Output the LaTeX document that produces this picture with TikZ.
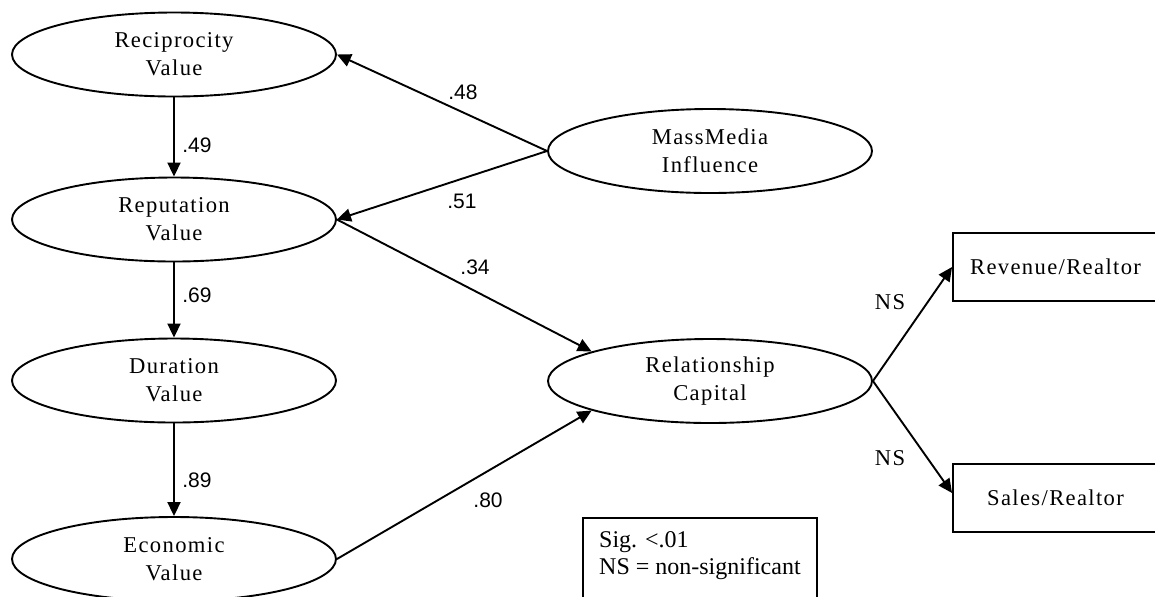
\documentclass[tikz,border=0pt]{standalone}
\usepackage{fontspec}
\setmainfont{Liberation Serif}
\newfontfamily\nodefont[LetterSpace=6]{Liberation Serif}
\newfontfamily\numfont{Liberation Sans}
\usetikzlibrary{shapes.geometric,arrows.meta}

\begin{document}
\begin{tikzpicture}[x=0.5pt,y=-0.5pt,
  latent/.style={ellipse,draw,line width=0.95pt,minimum width=162pt,minimum height=42pt,
    inner sep=0pt,align=center,font=\nodefont\fontsize{11.3}{14}\selectfont},
  observed/.style={rectangle,draw,line width=0.95pt,minimum width=102.5pt,minimum height=34pt,
    inner sep=0pt,font=\nodefont\fontsize{11.3}{14}\selectfont},
  link/.style={draw,line width=0.95pt,-{Triangle[length=7pt,width=6.5pt]}},
  coef/.style={font=\numfont\fontsize{10.5}{12}\selectfont,inner sep=0pt},
  nslabel/.style={font=\nodefont\fontsize{11.3}{13}\selectfont,inner sep=0pt}]

\useasboundingbox (0,0) rectangle (1155,596);

% latent constructs
\node[latent] (rec) at (174,54.5)  {Reciprocity\\Value};
\node[latent] (rep) at (174,219.5) {Reputation\\Value};
\node[latent] (dur) at (174,380.5) {Duration\\Value};
\node[latent] (eco) at (174,559)   {Economic\\Value};
\node[latent] (mm)  at (710,151)   {MassMedia\\Influence};
\node[latent] (rc)  at (710,381)   {Relationship\\Capital};

% outcome measures
\node[observed] (rev)   at (1055.5,267) {Revenue/Realtor};
\node[observed] (sales) at (1055.5,498) {Sales/Realtor};

% legend
\node[draw,line width=0.95pt,anchor=north west,inner xsep=6.5pt,inner ysep=7pt,
      align=left,minimum width=117pt,font=\fontsize{12}{13.5}\selectfont] (legend) at (582,517)
  {Sig. <.01\\NS = non-significant\rule[-9pt]{0pt}{9pt}};

% structural paths
\draw[link] (rec.south) -- (rep.north);
\draw[link] (rep.south) -- (dur.north);
\draw[link] (dur.south) -- (eco.north);
\draw[link] (mm.west) -- (rec.east);
\draw[link] (mm.west) -- (rep.east);
\draw[link] (rep.east) -- (rc.166);
\draw[link] (eco.east) -- (rc.194);
\draw[link] (rc.east) -- (rev.west);
\draw[link] (rc.east) -- ([yshift=2.5pt]sales.west);

% path coefficients
\node[coef] (c49) at (197,145) {.49};
\node[coef] (c69) at (197,295) {.69};
\node[coef] (c89) at (197,480) {.89};
\node[coef] (c48) at (463,92)  {.48};
\node[coef] (c51) at (462,201) {.51};
\node[coef] (c34) at (475,267) {.34};
\node[coef] (c80) at (488,500) {.80};
\node[nslabel] (ns1) at (890,302) {NS};
\node[nslabel] (ns2) at (890,458) {NS};

\end{tikzpicture}
\end{document}
